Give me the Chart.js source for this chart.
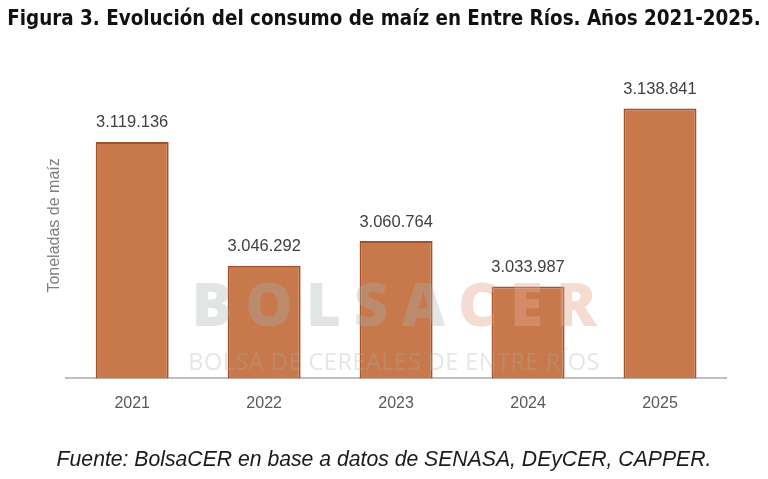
<!DOCTYPE html>
<html><head><meta charset="utf-8">
<script src="https://cdn.jsdelivr.net/npm/chart.js@4.4.1/dist/chart.umd.min.js"></script>
<style>html,body{margin:0;padding:0;background:#fff}#wrap{width:768px;height:479px}</style>
</head><body><div id="wrap"><canvas id="c"></canvas></div>
<script>
const years = ['2021', '2022', '2023', '2024', '2025'];
const consumo = [3119136, 3046292, 3060764, 3033987, 3138841];
const titulo = 'Figura 3. Evolución del consumo de maíz en Entre Ríos. Años 2021-2025.';
const fuente = 'Fuente: BolsaCER en base a datos de SENASA, DEyCER, CAPPER.';
const ejeY = 'Toneladas de maíz';
const marcaAgua = ['BOLSA', 'CER'];
const marcaAgua2 = 'BOLSA DE CEREALES DE ENTRE RÍOS';

function fmt(v) { return String(v).replace(/\B(?=(\d{3})+(?!\d))/g, '.'); }

const etiquetas = {
  id: 'etiquetas',
  afterDatasetsDraw(chart) {
    const ctx = chart.ctx;
    const meta = chart.getDatasetMeta(0);
    ctx.save();
    ctx.font = '16.5px "Liberation Sans", Arial, sans-serif';
    ctx.fillStyle = '#404040';
    ctx.textAlign = 'center';
    ctx.textBaseline = 'middle';
    meta.data.forEach((bar, i) => {
      ctx.fillText(fmt(chart.data.datasets[0].data[i]), bar.x, bar.y - 19);
    });
    ctx.restore();
  }
};

const agua = {
  id: 'agua',
  afterDatasetsDraw(chart) {
    const ctx = chart.ctx;
    const ca = chart.chartArea;
    const cx = (ca.left + ca.right) / 2 - 2;
    ctx.save();
    ctx.textBaseline = 'alphabetic';
    ctx.font = '800 60px "Open Sans", sans-serif';
    ctx.letterSpacing = '13px';
    const w1 = ctx.measureText(marcaAgua[0]).width;
    const w2 = ctx.measureText(marcaAgua[1]).width;
    let x = cx - (w1 + w2 - 13) / 2;
    ctx.textAlign = 'left';
    ctx.globalAlpha = 0.33;
    ctx.fillStyle = '#a3b0b0';
    ctx.fillText(marcaAgua[0], x, 326);
    ctx.fillStyle = '#e6a890';
    ctx.globalAlpha = 0.4;
    ctx.fillText(marcaAgua[1], x + w1, 326);
    ctx.font = '23.5px "Open Sans", sans-serif';
    ctx.letterSpacing = '0.5px';
    ctx.fillStyle = '#a3b0b0';
    ctx.globalAlpha = 0.3;
    ctx.textAlign = 'center';
    ctx.fillText(marcaAgua2, cx, 370);
    ctx.restore();
  }
};

new Chart(document.getElementById('c'), {
  type: 'bar',
  data: {
    labels: years,
    datasets: [{
      data: consumo,
      backgroundColor: '#C8794B',
      borderColor: '#A4512A',
      borderWidth: 2,
      barPercentage: 0.553,
      categoryPercentage: 1
    }]
  },
  options: {
    responsive: true,
    maintainAspectRatio: false,
    animation: false,
    devicePixelRatio: 1,
    layout: { padding: 0 },
    plugins: {
      legend: { display: false },
      tooltip: { enabled: false },
      title: {
        display: true,
        text: titulo,
        color: '#111',
        font: { family: '"DejaVu Sans Condensed", "Liberation Sans Narrow", sans-serif', size: 20.4, weight: 'bold' },
        padding: { top: 7, bottom: 41 }
      },
      subtitle: {
        display: true,
        position: 'bottom',
        text: fuente,
        color: '#1a1a1a',
        font: { family: '"Liberation Sans", Arial, sans-serif', size: 21.2, style: 'italic' },
        padding: { top: 18, bottom: 6 }
      }
    },
    scales: {
      x: {
        grid: { display: false, drawTicks: false },
        border: { display: true, color: '#BFBFBF', width: 2 },
        ticks: { color: '#595959', padding: 16, font: { family: '"Liberation Sans", Arial, sans-serif', size: 16 } }
      },
      y: {
        min: 2980000,
        max: 3160000,
        grid: { display: false, drawTicks: false },
        border: { display: false },
        ticks: { display: false },
        title: { display: true, text: ejeY, color: '#7F7F7F', padding: { top: 45, bottom: 2 }, font: { family: '"Liberation Sans", Arial, sans-serif', size: 16 } }
      },
      derecha: {
        position: 'right',
        display: true,
        grid: { display: false, drawTicks: false },
        border: { display: false },
        ticks: { display: false },
        afterFit(scale) { scale.width = 42; }
      }
    }
  },
  plugins: [etiquetas, agua]
});
</script>
</body></html>
